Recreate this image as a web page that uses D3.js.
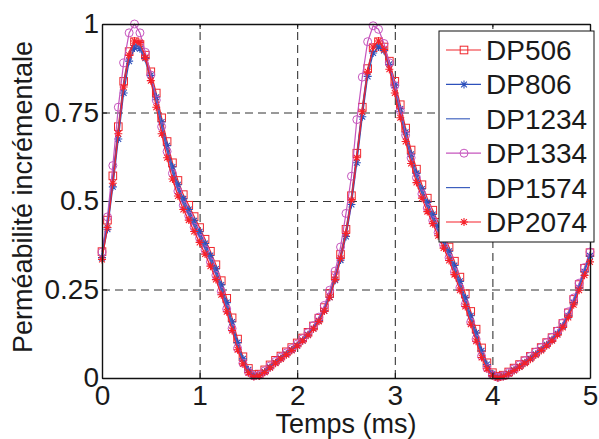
<!DOCTYPE html>
<html><head><meta charset="utf-8">
<script src="https://cdn.jsdelivr.net/npm/d3@7"></script>
<style>
body{margin:0;background:#fff}
svg{display:block}
text{font-family:"Liberation Sans",Arial,Helvetica,sans-serif;fill:#1a1a1a}
</style>
</head><body>
<svg id="chart" width="599" height="439"></svg>
<script>
// ---- data ----
const timesMs = [0,0.056,0.111,0.167,0.222,0.278,0.333,0.389,0.444,0.5,
 0.556,0.611,0.667,0.722,0.778,0.833,0.889,0.944,1,1.056,
 1.111,1.167,1.222,1.278,1.333,1.389,1.444,1.5,1.556,1.611,
 1.667,1.722,1.778,1.833,1.889,1.944,2,2.056,2.111,2.167,
 2.222,2.278,2.333,2.389,2.444,2.5,2.556,2.611,2.667,2.722,
 2.778,2.833,2.889,2.944,3,3.056,3.111,3.167,3.222,3.278,
 3.333,3.389,3.444,3.5,3.556,3.611,3.667,3.722,3.778,3.833,
 3.889,3.944,4,4.056,4.111,4.167,4.222,4.278,4.333,4.389,
 4.444,4.5,4.556,4.611,4.667,4.722,4.778,4.833,4.889,4.944,
 5];

const seriesNames = ["DP506","DP806","DP1234","DP1334","DP1574","DP2074"];

const dp506 = [0.357,0.446,0.571,0.710,0.838,0.922,0.950,0.942,0.912,0.865,
 0.805,0.735,0.668,0.608,0.558,0.518,0.488,0.456,0.425,0.392,
 0.358,0.320,0.275,0.225,0.170,0.110,0.060,0.027,0.010,0.011,
 0.023,0.037,0.050,0.062,0.074,0.086,0.099,0.113,0.129,0.147,
 0.169,0.199,0.239,0.289,0.349,0.420,0.515,0.635,0.765,0.874,
 0.933,0.950,0.935,0.895,0.838,0.772,0.706,0.644,0.590,0.546,
 0.508,0.474,0.440,0.405,0.370,0.330,0.285,0.238,0.188,0.138,
 0.085,0.043,0.015,0.005,0.008,0.017,0.028,0.038,0.049,0.061,
 0.073,0.086,0.100,0.114,0.132,0.154,0.184,0.222,0.264,0.310,
 0.354];

const dp806 = [0.340,0.420,0.540,0.675,0.805,0.895,0.932,0.930,0.903,0.855,
 0.793,0.723,0.656,0.596,0.546,0.506,0.476,0.444,0.413,0.380,
 0.346,0.308,0.263,0.213,0.158,0.100,0.054,0.023,0.008,0.007,
 0.017,0.030,0.043,0.055,0.067,0.079,0.092,0.106,0.122,0.140,
 0.162,0.190,0.228,0.276,0.333,0.400,0.490,0.608,0.738,0.852,
 0.918,0.935,0.925,0.886,0.828,0.760,0.694,0.632,0.578,0.534,
 0.496,0.462,0.428,0.393,0.358,0.318,0.273,0.226,0.176,0.127,
 0.077,0.038,0.012,0.003,0.005,0.013,0.022,0.032,0.043,0.055,
 0.067,0.080,0.094,0.108,0.126,0.147,0.176,0.213,0.255,0.300,
 0.345];

const dp1234 = [0.350,0.440,0.565,0.700,0.830,0.915,0.945,0.935,0.900,0.848,
 0.785,0.715,0.648,0.588,0.538,0.498,0.468,0.436,0.405,0.372,
 0.338,0.300,0.255,0.205,0.150,0.092,0.048,0.020,0.007,0.008,
 0.019,0.032,0.045,0.057,0.069,0.081,0.094,0.108,0.124,0.142,
 0.164,0.194,0.234,0.284,0.344,0.415,0.510,0.630,0.760,0.870,
 0.930,0.945,0.925,0.880,0.820,0.752,0.686,0.624,0.570,0.526,
 0.488,0.454,0.420,0.385,0.350,0.310,0.265,0.218,0.168,0.120,
 0.070,0.033,0.010,0.003,0.006,0.014,0.024,0.034,0.045,0.057,
 0.069,0.082,0.096,0.110,0.128,0.150,0.180,0.218,0.260,0.305,
 0.350];

const dp1334 = [0.355,0.455,0.600,0.765,0.890,0.975,1.000,0.975,0.920,0.856,
 0.785,0.710,0.640,0.578,0.528,0.488,0.458,0.426,0.395,0.362,
 0.328,0.290,0.245,0.195,0.140,0.084,0.042,0.017,0.006,0.008,
 0.020,0.034,0.047,0.059,0.071,0.083,0.096,0.111,0.128,0.148,
 0.172,0.205,0.248,0.302,0.370,0.465,0.570,0.730,0.850,0.950,
 0.995,0.985,0.945,0.890,0.826,0.755,0.686,0.622,0.566,0.520,
 0.480,0.445,0.411,0.376,0.340,0.300,0.255,0.208,0.158,0.110,
 0.062,0.028,0.008,0.002,0.006,0.015,0.026,0.037,0.049,0.061,
 0.073,0.086,0.100,0.115,0.133,0.156,0.187,0.226,0.268,0.312,
 0.356];

const dp1574 = [0.348,0.437,0.560,0.695,0.825,0.912,0.942,0.932,0.895,0.842,
 0.779,0.709,0.642,0.582,0.532,0.492,0.462,0.430,0.399,0.366,
 0.332,0.294,0.250,0.200,0.146,0.089,0.046,0.019,0.007,0.009,
 0.020,0.033,0.046,0.058,0.070,0.082,0.095,0.109,0.125,0.143,
 0.165,0.195,0.235,0.285,0.342,0.410,0.505,0.625,0.755,0.866,
 0.928,0.943,0.922,0.876,0.815,0.747,0.681,0.619,0.565,0.521,
 0.483,0.449,0.415,0.380,0.345,0.305,0.260,0.213,0.164,0.116,
 0.068,0.032,0.010,0.004,0.007,0.015,0.025,0.035,0.046,0.058,
 0.070,0.083,0.097,0.111,0.129,0.151,0.181,0.219,0.261,0.306,
 0.350];

const dp2074 = [0.335,0.425,0.550,0.690,0.822,0.912,0.952,0.948,0.905,0.840,
 0.765,0.690,0.622,0.562,0.514,0.476,0.446,0.414,0.383,0.350,
 0.316,0.278,0.235,0.187,0.134,0.080,0.040,0.015,0.004,0.006,
 0.016,0.029,0.042,0.054,0.066,0.078,0.091,0.105,0.121,0.139,
 0.160,0.189,0.228,0.278,0.338,0.408,0.502,0.622,0.752,0.865,
 0.935,0.952,0.928,0.872,0.805,0.735,0.668,0.606,0.552,0.508,
 0.470,0.436,0.402,0.367,0.332,0.292,0.248,0.202,0.152,0.104,
 0.058,0.026,0.007,0.001,0.004,0.012,0.021,0.031,0.042,0.053,
 0.065,0.078,0.091,0.105,0.122,0.143,0.171,0.207,0.248,0.290,
 0.328];

const xTicks = [0,1,2,3,4,5];
const yTicks = [0,0.25,0.5,0.75,1];
const xLabel = "Temps (ms)";
const yLabel = "Perméabilité incrémentale";

// ---- styles ----
const seriesValues = [dp506, dp806, dp1234, dp1334, dp1574, dp2074];
const styles = {
  DP506:  {color:"#f0262c", marker:"square"},
  DP806:  {color:"#2d50bb", marker:"star"},
  DP1234: {color:"#4466c0", marker:null},
  DP1334: {color:"#c656be", marker:"circle"},
  DP1574: {color:"#3d5fbe", marker:null},
  DP2074: {color:"#f5202a", marker:"star"}
};

const W = 599, H = 439;
const plot = {left:102, right:590, top:24, bottom:378};
const FS = 28;

const svg = d3.select("#chart");
svg.append("rect").attr("width",W).attr("height",H).attr("fill","#fff");

const x = d3.scaleLinear().domain([0,5]).range([plot.left, plot.right]);
const y = d3.scaleLinear().domain([0,1]).range([plot.bottom, plot.top]);

// grid
const gridX = svg.append("g").attr("transform",`translate(0,${plot.bottom})`)
  .call(d3.axisBottom(x).tickValues(xTicks.filter(v=>v>0&&v<5)).tickSize(-(plot.bottom-plot.top)).tickFormat(""));
gridX.select(".domain").remove();
gridX.selectAll(".tick line").attr("stroke","#222").attr("stroke-width",1).attr("stroke-dasharray","8,5");
const gridY = svg.append("g").attr("transform",`translate(${plot.left},0)`)
  .call(d3.axisLeft(y).tickValues(yTicks.filter(v=>v>0&&v<1)).tickSize(-(plot.right-plot.left)).tickFormat(""));
gridY.select(".domain").remove();
gridY.selectAll(".tick line").attr("stroke","#333").attr("stroke-width",1).attr("stroke-dasharray","8,5");

// series
svg.append("clipPath").attr("id","clipP").append("rect")
  .attr("x",plot.left-6).attr("y",plot.top-8).attr("width",plot.right-plot.left+12).attr("height",plot.bottom-plot.top+14);

function drawMarker(g, type, color, cx, cy){
  if(type==="square"){
    g.append("rect").attr("x",cx-3.8).attr("y",cy-3.8).attr("width",7.6).attr("height",7.6)
      .attr("fill","none").attr("stroke",color).attr("stroke-width",1);
  } else if(type==="circle"){
    g.append("circle").attr("cx",cx).attr("cy",cy).attr("r",4)
      .attr("fill","none").attr("stroke",color).attr("stroke-width",1);
  } else if(type==="star"){
    const r=4, d=r*0.72;
    g.append("path").attr("d",`M${-r},0L${r},0M0,${-r}L0,${r}M${-d},${-d}L${d},${d}M${-d},${d}L${d},${-d}`)
      .attr("transform",`translate(${cx},${cy})`)
      .attr("fill","none").attr("stroke",color).attr("stroke-width",1.1);
  }
}

const line = d3.line().x(d=>x(d[0])).y(d=>y(d[1]));
const seriesG = svg.append("g").attr("clip-path","url(#clipP)");
seriesNames.forEach((name,i)=>{
  const st = styles[name];
  const pts = timesMs.map((t,j)=>[t, seriesValues[i][j]]);
  const g = seriesG.append("g");
  g.append("path").datum(pts).attr("d",line).attr("fill","none")
    .attr("stroke",st.color).attr("stroke-width",1.2).attr("stroke-linejoin","round");
  if(st.marker){
    pts.forEach(p=>drawMarker(g, st.marker, st.color, x(p[0]), y(p[1])));
  }
});

// axes box and ticks
const axisStyle = g => {
  g.select(".domain").attr("stroke","#111").attr("stroke-width",1.4);
  g.selectAll(".tick line").attr("stroke","#111").attr("stroke-width",1);
  g.selectAll(".tick text").attr("font-size",FS).attr("font-family",'"Liberation Sans",Arial,sans-serif').attr("fill","#1a1a1a");
};
svg.append("g").attr("transform",`translate(0,${plot.bottom})`)
  .call(d3.axisBottom(x).tickValues(xTicks).tickSizeInner(-5).tickSizeOuter(0).tickPadding(7).tickFormat(d3.format("d")))
  .call(axisStyle);
svg.append("g").attr("transform",`translate(0,${plot.top})`)
  .call(d3.axisTop(x).tickValues(xTicks).tickSizeInner(-5).tickSizeOuter(0).tickFormat(""))
  .call(axisStyle);
svg.append("g").attr("transform",`translate(${plot.left},0)`)
  .call(d3.axisLeft(y).tickValues(yTicks).tickSizeInner(-5).tickSizeOuter(0).tickPadding(3).tickFormat(d=>d3.format("")(d)))
  .call(axisStyle);
svg.append("g").attr("transform",`translate(${plot.right},0)`)
  .call(d3.axisRight(y).tickValues(yTicks).tickSizeInner(-5).tickSizeOuter(0).tickFormat(""))
  .call(axisStyle);

// labels
svg.append("text").attr("x",(plot.left+plot.right)/2).attr("y",433).attr("text-anchor","middle")
  .attr("font-size",FS-1).text(xLabel);
svg.append("text").attr("transform",`translate(32,${(plot.top+plot.bottom)/2 - 4}) rotate(-90)`)
  .attr("text-anchor","middle").attr("font-size",FS-1).text(yLabel);

// legend
const leg = svg.append("g");
const lb = {x:439, y:31, w:155, h:211};
leg.append("rect").attr("x",lb.x).attr("y",lb.y).attr("width",lb.w).attr("height",lb.h)
  .attr("fill","#fff").attr("stroke","#111").attr("stroke-width",1);
const rowScale = d3.scalePoint().domain(seriesNames).range([lb.y+19, lb.y+191]);
seriesNames.forEach(name=>{
  const st = styles[name];
  const cy = rowScale(name);
  const x2 = st.marker ? lb.x+42 : lb.x+31;
  leg.append("line").attr("x1",lb.x+7).attr("x2",x2).attr("y1",cy).attr("y2",cy)
    .attr("stroke",st.color).attr("stroke-width",1.2);
  if(st.marker) drawMarker(leg, st.marker, st.color, lb.x+25, cy);
  leg.append("text").attr("x",lb.x+47).attr("y",cy+10).attr("font-size",FS).text(name);
});
</script>
</body></html>
